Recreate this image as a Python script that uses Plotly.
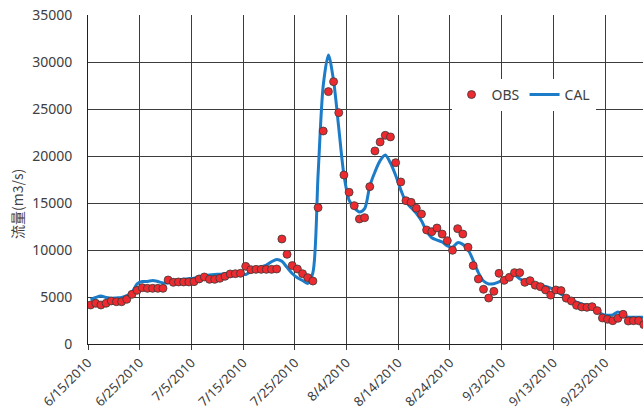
import pandas as pd
import plotly.graph_objects as go

# Daily series, 2010-06-15 .. 2010-09-30 (plotted mid-day, between date ticks)
start_date = "2010-06-15"
n_days = 108
dates = pd.date_range(start_date + " 12:00", periods=n_days, freq="D")

# Observed discharge (m3/s)
obs = [
    4150, 4330, 4150, 4330, 4580, 4500, 4500, 4750, 5280, 5710,
    5990, 5920, 5920, 5920, 5920, 6810, 6560, 6600, 6600, 6600,
    6630, 6920, 7130, 6880, 6880, 6990, 7200, 7450, 7480, 7520,
    8260, 7910, 7940, 7940, 7940, 7940, 7980, 11170, 9540, 8340,
    7980, 7480, 7060, 6700, 14510, 22660, 26850, 27910, 24610, 17980,
    16140, 14720, 13300, 13440, 16740, 20540, 21490, 22200, 22030, 19290,
    17240, 15250, 15070, 14440, 13830, 12130, 11950, 12340, 11700, 10990,
    9970, 12270, 11700, 10290, 8340, 6920, 5820, 4890, 5600, 7520,
    6770, 7090, 7590, 7590, 6560, 6740, 6260, 6100, 5750, 5200,
    5750, 5680, 4880, 4580, 4110, 3940, 3900, 3970, 3550, 2770,
    2630, 2480, 2730, 3160, 2450, 2480, 2480, 2060,
]

# Calculated discharge (m3/s)
cal = [
    4700, 4950, 5100, 4950, 4850, 4900, 4950, 5150, 5500, 6400,
    6650, 6650, 6750, 6650, 6500, 6500, 6800, 6850, 6900, 6950,
    7000, 7150, 7250, 7350, 7400, 7420, 7480, 7520, 7500, 7450,
    7400, 7700, 8000, 8200, 8400, 8750, 9000, 8800, 8150, 7500,
    7050, 6750, 6450, 7600, 18000, 27500, 30750, 28000, 23000, 18000,
    15300, 14500, 14050, 14400, 16800, 18300, 19500, 20100, 19250, 17950,
    16400, 15100, 14500, 13900, 13100, 12000, 11300, 11050, 10850, 10430,
    10300, 10780, 10600, 10050, 8900, 7600, 6700, 6390, 6420, 6600,
    6950, 7250, 7330, 6950, 6650, 6500, 6400, 6250, 6120, 5950,
    5650, 5300, 4950, 4650, 4450, 4250, 4100, 3950, 3550, 3150,
    3050, 3100, 3400, 3100, 2850, 2850, 2850, 2850,
]

y_title = "流量(m3/s)"
x_end = "2010-09-30 08:24"

text_color = "#404040"
grid_color = "#3c3c3c"
base_font = "Noto Sans, Open Sans, DejaVu Sans, sans-serif"
cjk_font = "Noto Sans CJK JP, Noto Sans CJK SC, sans-serif"

fig = go.Figure()

fig.add_trace(go.Scatter(
    x=dates, y=cal, name="CAL", mode="lines",
    line=dict(color="#1C7CC8", width=3, shape="spline", smoothing=0.8),
    legendrank=2,
))
fig.add_trace(go.Scatter(
    x=dates, y=obs, name="OBS", mode="markers",
    marker=dict(color="#EC2A2F", size=8, line=dict(color="#3a3a3a", width=0.8)),
    legendrank=1,
))

fig.update_layout(
    width=643, height=419,
    margin=dict(l=88, r=0, t=15, b=75),
    paper_bgcolor="white", plot_bgcolor="white",
    font=dict(family=base_font, size=14, color=text_color),
    showlegend=True,
    legend=dict(
        orientation="h",
        x=0.655, xanchor="left",
        y=0.757, yanchor="middle",
        bgcolor="white",
        font=dict(size=14, color=text_color),
        itemwidth=30,
    ),
    annotations=[dict(
        text=y_title, textangle=-90,
        xref="paper", yref="paper",
        x=(17 - 88) / 555, y=(344 - 204) / 329,
        xanchor="center", yanchor="middle",
        showarrow=False,
        font=dict(family=cjk_font, size=14, color=text_color),
    )],
)

fig.update_xaxes(
    type="date",
    range=[start_date, x_end],
    tick0=start_date, dtick=10 * 86400000,
    tickformat="%-m/%-d/%Y", tickangle=-45,
    ticks="outside", ticklen=5, tickcolor=grid_color,
    showgrid=True, gridcolor=grid_color, gridwidth=1,
    showline=True, linecolor="#202020", linewidth=1,
    tickfont=dict(size=13, color=text_color),
    zeroline=False,
)
fig.update_yaxes(
    range=[0, 35000], dtick=5000, tickformat="d",
    showgrid=True, gridcolor=grid_color, gridwidth=1,
    showline=True, linecolor="#202020", linewidth=1,
    ticks="", ticklabelstandoff=12,
    tickfont=dict(size=14, color=text_color),
    zeroline=False,
)

fig.write_html("out.html")
